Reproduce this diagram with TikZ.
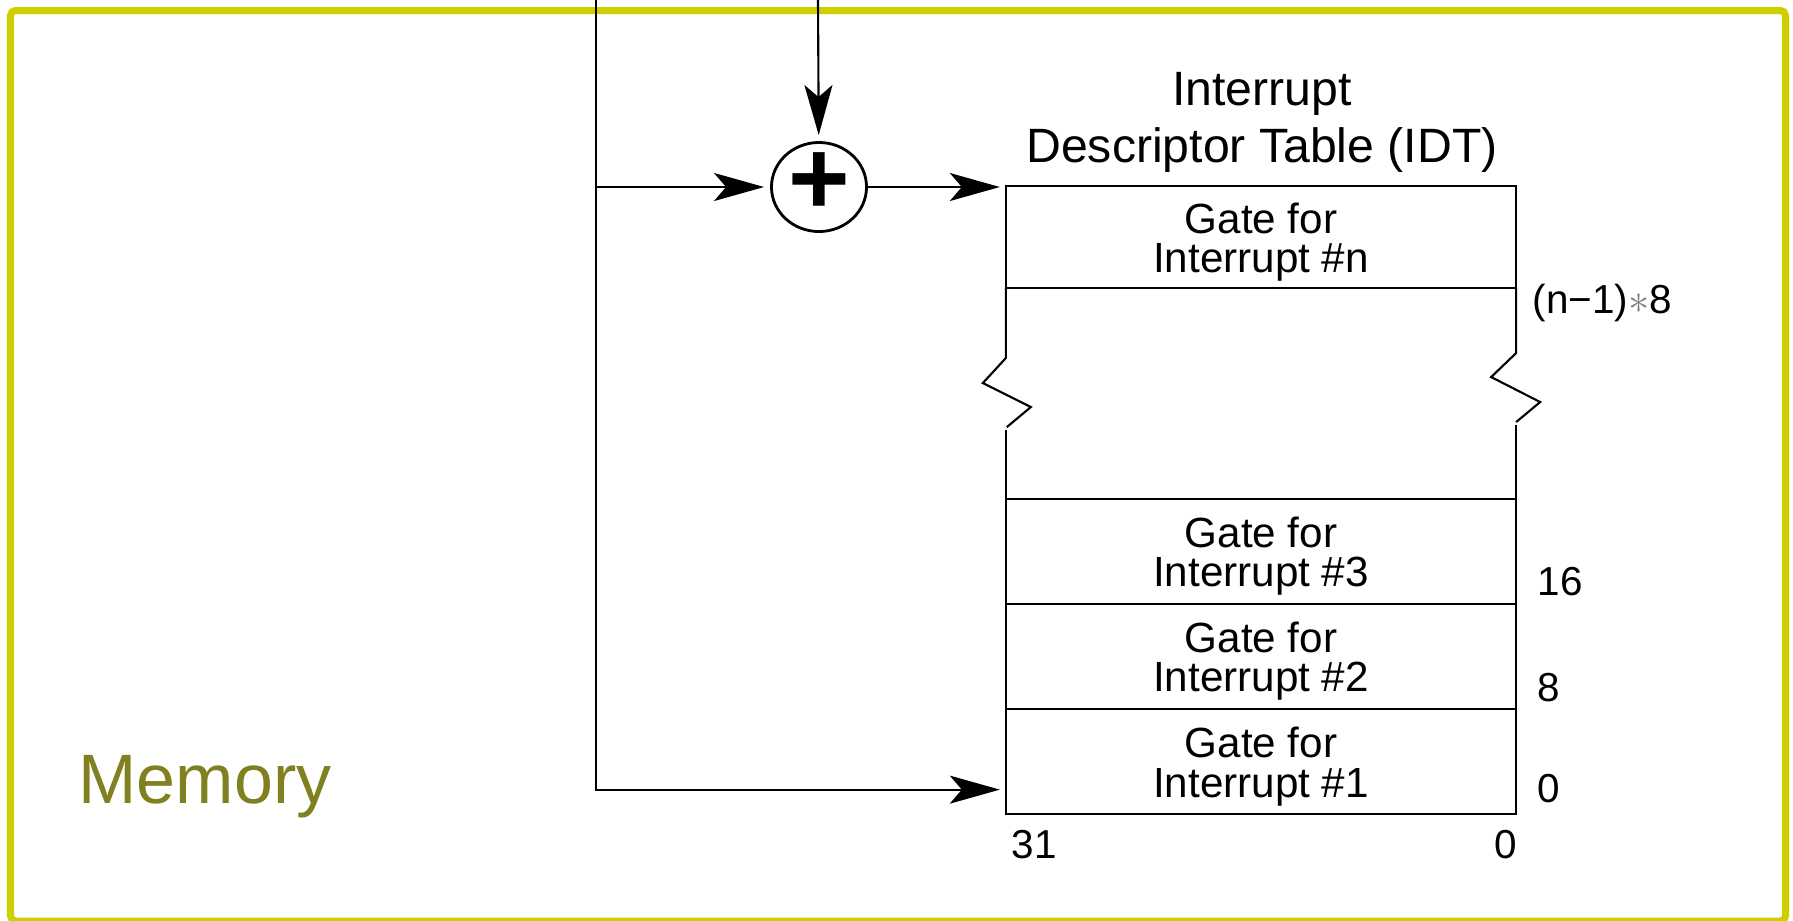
\documentclass[tikz,border=0pt]{standalone}
\usepackage{fontspec}
\setmainfont{Liberation Sans}
\usetikzlibrary{arrows.meta,positioning,calc,shapes.geometric}
\definecolor{frameyellow}{RGB}{206,207,0}
\definecolor{memolive}{RGB}{128,128,32}
\newcommand\gatefor[1]{\rule{0pt}{11.5pt}Gate for\\Interrupt \##1}
\tikzset{
    gate/.style =   {rectangle,
                    fill=white,
                    draw=black,
                    text=black,
                    line width=0.6pt,
                    outer sep=0pt,
                    inner ysep=0pt,
                    minimum width=5.1cm,
                    minimum height=1.05cm,
                    align=center,
                    font=\fontsize{12}{11.1}\selectfont},
    adder/.style =  {ellipse,
                    fill=white,
                    draw=black,
                    line width=0.8pt,
                    inner sep=0pt,
                    minimum width=0.95cm,
                    minimum height=0.89cm},
    plus/.style =   {inner sep=0pt,
                    text=black,
                    font=\fontsize{30}{30}\selectfont\bfseries},
    title/.style =  {inner sep=0pt,
                    align=center,
                    font=\fontsize{13.7}{16.2}\selectfont},
    offset/.style = {anchor=base west,
                    inner sep=0pt,
                    font=\fontsize{11.5}{13}\selectfont},
    memory/.style = {anchor=base west,
                    inner sep=0pt,
                    text=memolive,
                    font=\fontsize{19.9}{24}\selectfont},
    -,
    wire/.style =   {line width=0.6pt,
                    color=black},
    feed/.style =   {wire,
                    ->,
                    shorten >= 0.6mm},
    >={Stealth[length=5mm,width=2.8mm,inset=1.2mm]}}

\begin{document}
\begin{tikzpicture}[x=0.01cm,y=-0.01cm]
    \useasboundingbox (0,0) rectangle (1793,920);
    \draw[frameyellow,line width=0.07cm,rounded corners=0.05cm] (10.5,10.5) rectangle (1785.5,921);

    \node[title]  (idt)  at (1262,122)  {Interrupt\\Descriptor Table (IDT)};
    \node[gate,minimum height=1.02cm] (rn) at (1261,237) {\gatefor{n}};
    \node[gate]   (r3)   at (1261,551.5) {\gatefor{3}};
    \node[gate]   (r2)   [below=0pt of r3] {\gatefor{2}};
    \node[gate]   (r1)   [below=0pt of r2] {\gatefor{1}};
    \node[adder]  (sum)  at (819,187)   {};
    \node[plus]   (plus) at (819,184)   {+};

    \node[offset] (on)   at (1532,313)  {(n−1){\color{gray}$\ast$}8};
    \node[offset] (o3)   at (1537,595)  {16};
    \node[offset] (o2)   at (1537,701)  {8};
    \node[offset] (o1)   at (1537,802)  {0};
    \node[offset] (hi)   at (1011,858)  {31};
    \node[offset,anchor=base east] (lo) at (1518,858) {0};
    \node[memory] (mem)  at (78,803)    {Memory};

    \coordinate (in1) at (596,0);
    \coordinate (in2) at (818,0);
    \coordinate (tgt) at ($(r1.west)+(0,28)$);

    % break in the table
    \draw[wire] (rn.south west) -- ++(0,70) -- ++(-23,25) -- ++(48,24) -- ++(-24,20);
    \draw[wire] (r3.north west) -- ++(0,-69);
    \draw[wire] (rn.south east) -- ++(0,65) -- ++(-25,24) -- ++(49,25) -- ++(-24,20);
    \draw[wire] (r3.north east) -- ++(0,-74);

    \draw[feed] (in1) |- (tgt);
    \path[feed] (in1 |- sum) edge [] (sum)
                (in2)        edge [] (sum)
                (sum)        edge [] (sum -| rn.west);
\end{tikzpicture}
\end{document}
